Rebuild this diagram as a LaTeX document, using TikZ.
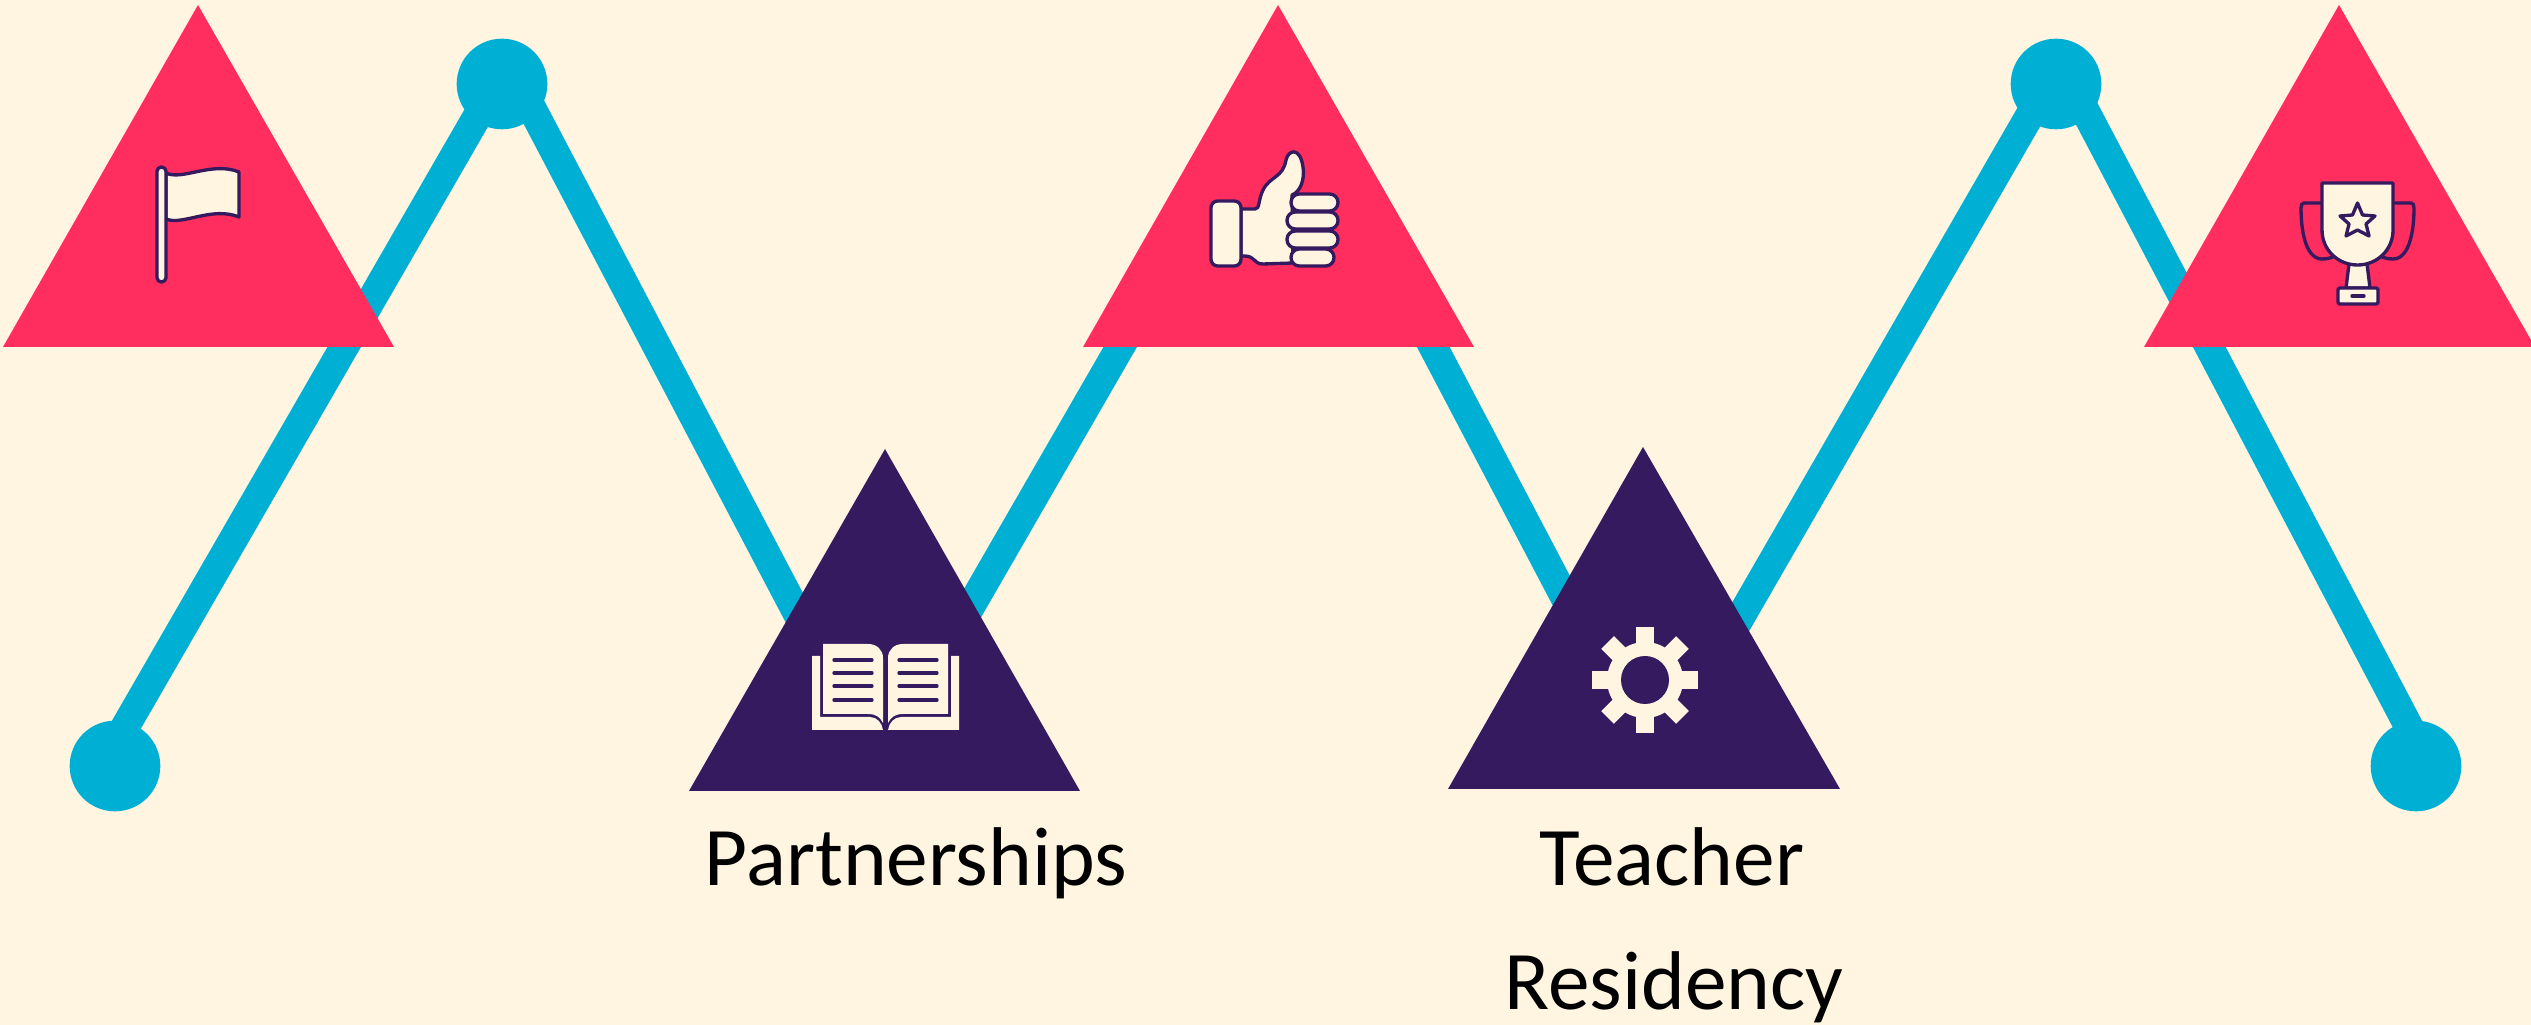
\documentclass[tikz,border=0pt]{standalone}
\usepackage{fontspec}
\setmainfont{Carlito}
\definecolor{paper}{HTML}{FFF5E1}
\definecolor{rosered}{HTML}{FF2E5F}
\definecolor{deepplum}{HTML}{351A60}
\definecolor{lakeblue}{HTML}{00B0D4}
\begin{document}
\begin{tikzpicture}[x=0.3pt, y=-0.3pt]
	\tikzstyle{endpoint}=[circle, fill=lakeblue, inner sep=0pt, minimum size=27.2pt]
	\tikzstyle{route}=[draw=lakeblue, line width=8.7pt, line join=round]
	\tikzstyle{redtri}=[fill=rosered]
	\tikzstyle{plumtri}=[fill=deepplum]
	\tikzstyle{icon}=[draw=deepplum, fill=paper, line width=1pt, line join=round]
	\tikzstyle{handle}=[draw=deepplum, line width=1pt]
	\tikzstyle{bookline}=[draw=deepplum, line width=1pt, line cap=round]
	\tikzstyle{caption}=[font=\fontsize{25pt}{37pt}\selectfont, text=black, anchor=base]
	\useasboundingbox (0,0) rectangle (2531,1025);
	\fill[paper] (0,0) rectangle (2531,1025);
	%
	\coordinate (START) at (102,767);
	\coordinate (PEAKA) at (508,63);
	\coordinate (DIPA) at (878,767);
	\coordinate (PEAKB) at (1284,63);
	\coordinate (DIPB) at (1654,767);
	\coordinate (PEAKC) at (2060,63);
	\coordinate (FINISH) at (2430,767);
	\draw[route] (START) -- (PEAKA) -- (DIPA) -- (PEAKB) -- (DIPB) -- (PEAKC) -- (FINISH);
	\node[endpoint] (DOTA) at (115,766) {};
	\node[endpoint] (DOTB) at (502,84) {};
	\node[endpoint] (DOTC) at (2056,84) {};
	\node[endpoint] (DOTD) at (2416,766) {};
	%
	\fill[redtri] (198,5) -- (394,347) -- (3,347) -- cycle;
	\fill[redtri] (1278,5) -- (1474,347) -- (1083,347) -- cycle;
	\fill[redtri] (2339,5) -- (2535,347) -- (2144,347) -- cycle;
	\fill[plumtri] (885,449) -- (1080,791) -- (689,791) -- cycle;
	\fill[plumtri] (1643,447) -- (1840,789) -- (1448,789) -- cycle;
	%
	% flag
	\path[icon] (166,173) .. controls (182,181) and (212,161) .. (239,172) -- (239,217) .. controls (212,206) and (182,226) .. (166,219) -- cycle;
	\path[icon, rounded corners=1.3pt] (157,167) rectangle (166,282);
	%
	% thumb
	\path[icon] (1241,209) -- (1255,209) .. controls (1260,209) and (1258,200) .. (1263,190) .. controls (1270,176) and (1283,178) .. (1286,160) .. controls (1288,150) and (1300,146) .. (1303,167) .. controls (1305,180) and (1300,192) .. (1292,195) -- (1293,263) -- (1263,264) .. controls (1253,264) and (1256,256) .. (1244,256) -- (1241,256) -- cycle;
	\path[icon, rounded corners=2pt] (1211,201) rectangle (1241,266);
	\path[icon, rounded corners=2.5pt] (1291,194) rectangle (1338,211);
	\path[icon, rounded corners=2.5pt] (1287,212) rectangle (1338,229);
	\path[icon, rounded corners=2.5pt] (1287,231) rectangle (1338,248);
	\path[icon, rounded corners=2.5pt] (1291,249) rectangle (1334,266);
	%
	% trophy
	\draw[handle] (2322,203) -- (2304,203) .. controls (2302,203) and (2301,205) .. (2301,208) .. controls (2301,235) and (2307,259) .. (2322,259) .. controls (2327,259) and (2331,258) .. (2335,256);
	\draw[handle] (2393,203) -- (2411,203) .. controls (2413,203) and (2414,205) .. (2414,208) .. controls (2414,235) and (2408,259) .. (2393,259) .. controls (2388,259) and (2384,258) .. (2380,256);
	\path[icon] (2349,264) -- (2346,288) -- (2370,288) -- (2367,264) -- cycle;
	\path[icon, rounded corners=0.6pt] (2338,288) rectangle (2378,304);
	\draw[bookline] (2352,296) -- (2364,296);
	\path[icon] (2322,183) -- (2393,183) -- (2393,230) .. controls (2393,250) and (2377,265) .. (2357.5,265) .. controls (2338,265) and (2322,250) .. (2322,230) -- cycle;
	\path[icon] (2357.5,203) -- (2362.5,215) -- (2375,216) -- (2366,224) -- (2369,236) -- (2357.5,230) -- (2346,236) -- (2349,224) -- (2340,216) -- (2352.5,215) -- cycle;
	%
	% book
	\fill[paper] (812,656) -- (820,656) -- (820,717) -- (870,717) .. controls (877,717) and (882,723) .. (883,730) -- (812,730) -- cycle;
	\fill[paper] (959,656) -- (951,656) -- (951,717) -- (901,717) .. controls (894,717) and (889,723) .. (888,730) -- (959,730) -- cycle;
	\fill[paper] (823,644) -- (868,644) .. controls (877,644) and (883,650) .. (883,658) -- (883,723) .. controls (880,717) and (876,714) .. (868,714) -- (823,714) -- cycle;
	\fill[paper] (948,644) -- (903,644) .. controls (894,644) and (888,650) .. (888,658) -- (888,723) .. controls (891,717) and (895,714) .. (903,714) -- (948,714) -- cycle;
	\foreach \yline in {660,673,686,700} {
		\draw[bookline] (834,\yline) -- (872,\yline);
		\draw[bookline] (899,\yline) -- (937,\yline);
	}
	%
	% gear
	\foreach \angle in {0,45,...,315} {
		\fill[paper, rotate around={\angle:(1645,680)}] (1636,627) rectangle (1654,660);
	}
	\fill[paper] (1645,680) circle (38);
	\fill[deepplum] (1645,680) circle (24);
	%
	\node[caption] (PARTNERS) at (916,885.5) {Partnerships};
	\node[caption] (TEACHER) at (1672,885.5) {Teacher};
	\node[caption] (RESIDENCY) at (1674,1009) {Residency};
\end{tikzpicture}
\end{document}
